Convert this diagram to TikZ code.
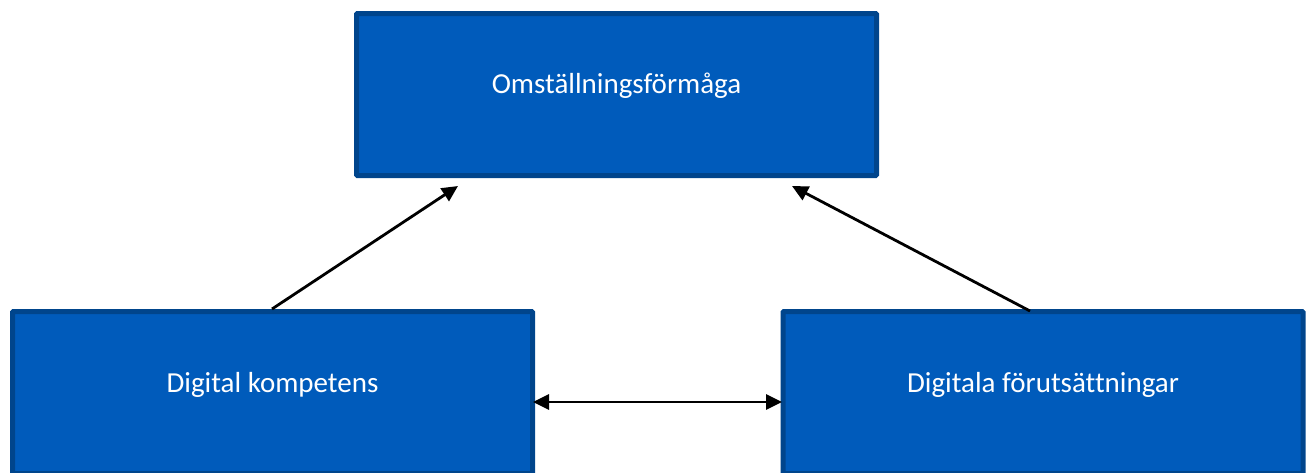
\documentclass[tikz,border=0pt]{standalone}
\usepackage{fontspec}
\setmainfont[Ligatures=NoCommon]{Carlito}
\usetikzlibrary{arrows.meta,calc}
\definecolor{boxfill}{RGB}{0,91,187}
\definecolor{boxline}{RGB}{0,69,140}
\tikzset{
  box/.style={draw=boxline, fill=boxfill, line width=5pt, rounded corners=1pt,
    minimum width=520pt, minimum height=162pt, inner sep=0pt},
  txt/.style={text=white, font=\fontsize{29}{34}\selectfont, inner sep=0pt},
  tip/.tip={Triangle[length=16pt,width=15pt]},
  link/.style={line width=2.8pt, -tip},
  both/.style={line width=2.8pt, tip-tip}
}
\begin{document}
\begin{tikzpicture}[x=1pt,y=-1pt]
  \useasboundingbox (0,0) rectangle (1309,472);
  \clip (0,0) rectangle (1309,472);
  % the three boxes
  \node[box] (top) at (616.5,94.5) {};
  \node[box] (dk) at (272.5,392.5) {};
  \node[box] (df) at (1043,392.5) {};
  % their titles
  \node[txt] (topt) at (616.5,86) {Omställningsförmåga};
  \node[txt] (dkt) at (272.5,385) {Digital kompetens};
  \node[txt] (dft) at (1043,385) {Digitala förutsättningar};
  % arrow end points
  \coordinate (a1s) at (272,309);
  \coordinate (a1e) at (458,186);
  \coordinate (a2s) at (1030,311);
  \coordinate (a2e) at (792,186);
  \coordinate (h1) at (533,402);
  \coordinate (h2) at (782,402);
  \draw[link] (a1s) -- (a1e);
  \draw[link] (a2s) -- (a2e);
  \draw[both] (h1) -- (h2);
\end{tikzpicture}
\end{document}
